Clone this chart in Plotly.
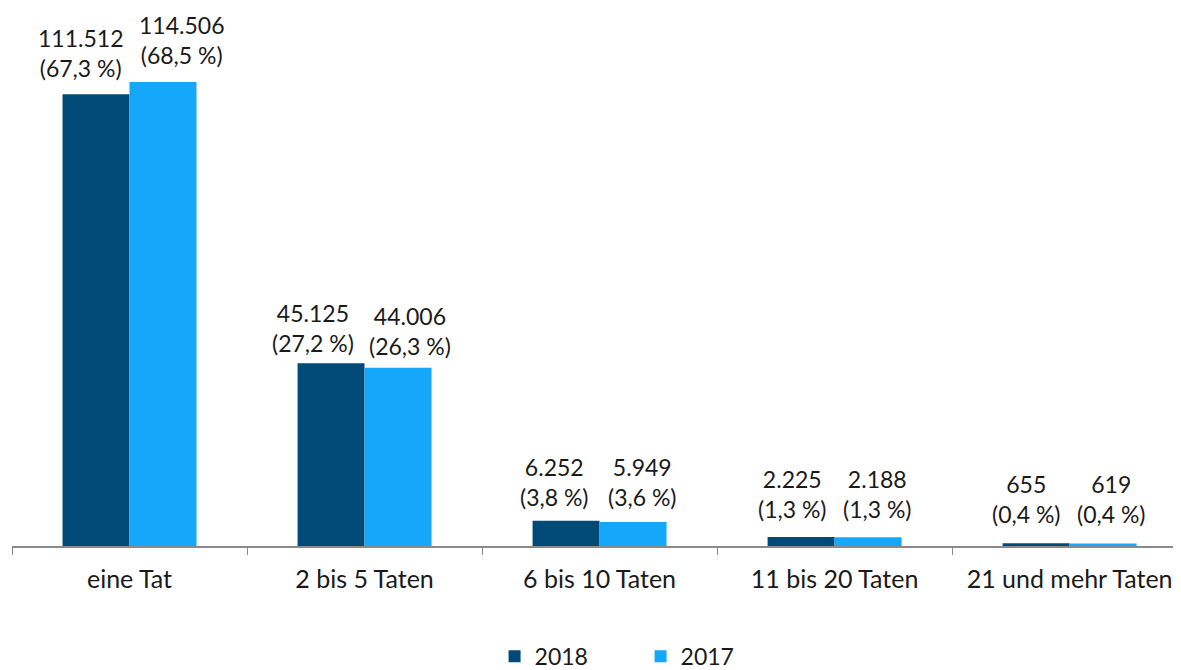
import plotly.graph_objects as go

categories = ["eine Tat", "2 bis 5 Taten", "6 bis 10 Taten", "11 bis 20 Taten", "21 und mehr Taten"]
values_2018 = [111512, 45125, 6252, 2225, 655]
values_2017 = [114506, 44006, 5949, 2188, 619]
pct_2018 = ["67,3", "27,2", "3,8", "1,3", "0,4"]
pct_2017 = ["68,5", "26,3", "3,6", "1,3", "0,4"]

# label nudges in pixels (style only), as in the original layout
nudge_x_2018 = [-16, -18, -12, -9, -10]
nudge_x_2017 = [18, 12, 9, 9, 8]
nudge_y_2018 = [13, 7, 11, 15, 16]
nudge_y_2017 = [14, 9, 12, 15, 16]

def fmt(v):
    return f"{v:,}".replace(",", ".")

text_2018 = [f"{fmt(v)}<br>({p} %)" for v, p in zip(values_2018, pct_2018)]
text_2017 = [f"{fmt(v)}<br>({p} %)" for v, p in zip(values_2017, pct_2017)]

font_family = "Lato, 'Open Sans', sans-serif"
c2018 = "#004A78"
c2017 = "#14A7FA"
bar_px = 67  # half-group offset in px for label placement

fig = go.Figure()
fig.add_trace(go.Bar(name="2018", x=categories, y=values_2018, marker_color=c2018,
                     marker_line_width=0))
fig.add_trace(go.Bar(name="2017", x=categories, y=values_2017, marker_color=c2017,
                     marker_line_width=0))

annotations = []
for cat, v, t, dx, dy in zip(categories, values_2018, text_2018, nudge_x_2018, nudge_y_2018):
    annotations.append(dict(x=cat, y=v, xref="x", yref="y", text=t, showarrow=False,
                            xanchor="center", yanchor="bottom",
                            xshift=-bar_px / 2 + dx, yshift=dy - 3,
                            font=dict(size=23, color="#1a1a1a", family=font_family)))
for cat, v, t, dx, dy in zip(categories, values_2017, text_2017, nudge_x_2017, nudge_y_2017):
    annotations.append(dict(x=cat, y=v, xref="x", yref="y", text=t, showarrow=False,
                            xanchor="center", yanchor="bottom",
                            xshift=bar_px / 2 + dx, yshift=dy - 3,
                            font=dict(size=23, color="#1a1a1a", family=font_family)))

fig.update_layout(
    width=1173, height=662,
    barmode="group", bargap=0.43, bargroupgap=0,
    margin=dict(l=4, r=0, t=0, b=124, autoexpand=False),
    plot_bgcolor="white", paper_bgcolor="white",
    font=dict(family=font_family, size=22, color="#1a1a1a"),
    showlegend=True,
    legend=dict(orientation="h", x=0.5377, xanchor="center", y=-0.205, yanchor="middle",
                font=dict(size=23), entrywidth=101, itemwidth=30),
    annotations=annotations,
)
fig.update_xaxes(showline=True, linecolor="#8a8a8a", linewidth=1.5,
                 range=[-0.5, 4.474], automargin=False,
                 ticks="outside", tickson="boundaries", ticklen=7, tickcolor="#8a8a8a",
                 ticklabelstandoff=10,
                 tickfont=dict(size=25), showgrid=False)
fig.update_yaxes(range=[0, 132775], visible=False, showgrid=False)

fig.write_html("out.html")
